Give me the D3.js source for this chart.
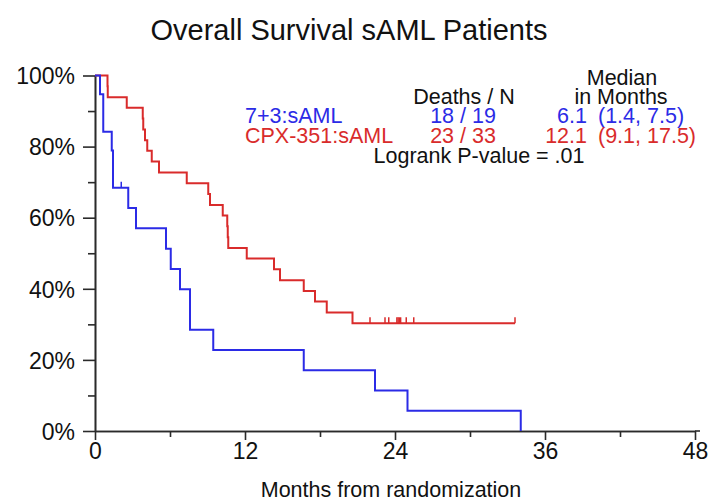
<!DOCTYPE html>
<html><head><meta charset="utf-8">
<script src="https://cdn.jsdelivr.net/npm/d3@7"></script>
<style>
html,body{margin:0;padding:0;background:#fff;}
svg{display:block;font-family:"Liberation Sans",Arial,sans-serif;}
</style></head>
<body><svg id="c" width="708" height="501"></svg>
<script>
// ---- data ----
const title = "Overall Survival sAML Patients";
const xTitle = "Months from randomization";
const xMajorTicks = [0, 12, 24, 36, 48];
const xMinorTicks = [6, 18, 30, 42];
const yMajorTicks = [0, 0.2, 0.4, 0.6, 0.8, 1.0];
const yMinorTicks = [0.1, 0.3, 0.5, 0.7, 0.9];

const groups = ["7+3:sAML", "CPX-351:sAML"];
const deathsN = ["18 / 19", "23 / 33"];
const medians = ["6.1", "12.1"];
const medianCI = ["(1.4, 7.5)", "(9.1, 17.5)"];
const pValueText = "Logrank P-value = .01";

const blueTimes = [0, 0.4, 0.66, 1.34, 1.44, 2.66, 3.28, 5.68, 6.06, 6.8, 7.6, 9.46, 16.7, 22.4, 25.0, 34.06];
const blueSurv  = [1, 0.947, 0.842, 0.789, 0.684, 0.627, 0.570, 0.513, 0.456, 0.399, 0.285, 0.228, 0.171, 0.114, 0.057, 0];
const blueCensorTimes = [2.1];
const blueCensorSurv  = [0.684];

const redTimes = [0, 1.0, 1.02, 2.54, 3.82, 3.86, 4.0, 4.18, 4.54, 5.12, 7.34, 9.06, 9.2, 10.22, 10.58, 10.62, 10.66, 12.14, 14.32, 14.8, 16.7, 17.6, 18.54, 20.6, 33.6];
const redSurv  = [1, 0.970, 0.939, 0.909, 0.879, 0.848, 0.818, 0.788, 0.758, 0.727, 0.697, 0.667, 0.636, 0.606, 0.576, 0.545, 0.515, 0.485, 0.455, 0.424, 0.394, 0.364, 0.333, 0.303, 0.303];
const redCensorTimes = [22.0, 23.2, 23.5, 24.15, 24.25, 24.35, 24.45, 24.9, 25.5, 33.6];
const redCensorSurv  = [0.303, 0.303, 0.303, 0.303, 0.303, 0.303, 0.303, 0.303, 0.303, 0.303];

// ---- styles ----
const BLUE = "#2b2be6", RED = "#d92b2b", AX = "#2a2a2a";
const svg = d3.select("#c");
const x = d3.scaleLinear().domain([0, 48]).range([95, 695]);
const y = d3.scaleLinear().domain([0, 1]).range([431, 75.5]);

// title
svg.append("text").attr("x", 349).attr("y", 40).attr("text-anchor", "middle")
  .attr("font-size", 29).attr("fill", "#111").text(title);

// axes
const yAxisMajor = svg.append("g").attr("transform", "translate(95,0)")
  .call(d3.axisLeft(y).tickValues(yMajorTicks).tickSize(12).tickSizeOuter(0).tickFormat(d3.format(".0%")).tickPadding(8));
const yAxisMinor = svg.append("g").attr("transform", "translate(95,0)")
  .call(d3.axisLeft(y).tickValues(yMinorTicks).tickSize(7).tickSizeOuter(0).tickFormat(""));
const xAxisMajor = svg.append("g").attr("transform", "translate(0,431)")
  .call(d3.axisBottom(x).tickValues(xMajorTicks).tickSize(9).tickSizeOuter(0).tickPadding(2));
const xAxisMinor = svg.append("g").attr("transform", "translate(0,431)")
  .call(d3.axisBottom(x).tickValues(xMinorTicks).tickSize(6).tickSizeOuter(0).tickFormat(""));
[yAxisMajor, yAxisMinor, xAxisMajor, xAxisMinor].forEach(g => {
  g.selectAll("path.domain").attr("stroke", AX).attr("stroke-width", 1.6);
  g.selectAll(".tick line").attr("stroke", AX).attr("stroke-width", 1.6);
  g.selectAll("text").attr("font-size", 23).attr("fill", "#111")
    .attr("font-family", "Liberation Sans, Arial, sans-serif");
});
yAxisMajor.selectAll("text").attr("dy", "0.36em");
xAxisMajor.selectAll("text").attr("dy", "0.74em");
// extend x-axis line slightly past 48
svg.append("line").attr("x1", x(48)).attr("x2", x(48) + 5).attr("y1", 431).attr("y2", 431)
  .attr("stroke", AX).attr("stroke-width", 1.6);

svg.append("text").attr("x", 391).attr("y", 497).attr("text-anchor", "middle")
  .attr("font-size", 21.5).attr("fill", "#111").text(xTitle);

// curves
const line = d3.line().x(d => x(d[0])).y(d => y(d[1])).curve(d3.curveStepAfter);
function drawCurve(times, surv, cT, cS, color) {
  const pts = times.map((t, i) => [t, surv[i]]);
  svg.append("path").datum(pts).attr("d", line).attr("fill", "none")
    .attr("stroke", color).attr("stroke-width", 2);
  svg.append("g").selectAll("line").data(cT.map((t, i) => [t, cS[i]])).join("line")
    .attr("x1", d => x(d[0])).attr("x2", d => x(d[0]))
    .attr("y1", d => y(d[1])).attr("y2", d => y(d[1]) - 6)
    .attr("stroke", color).attr("stroke-width", 1.5);
}
drawCurve(redTimes, redSurv, redCensorTimes, redCensorSurv, RED);
drawCurve(blueTimes, blueSurv, blueCensorTimes, blueCensorSurv, BLUE);

// legend table
const lg = svg.append("g").attr("font-size", 21.5);
lg.append("text").attr("x", 622).attr("y", 85).attr("text-anchor", "middle").attr("fill", "#111").text("Median");
lg.append("text").attr("x", 621).attr("y", 104).attr("text-anchor", "middle").attr("fill", "#111").text("in Months");
lg.append("text").attr("x", 464).attr("y", 104).attr("text-anchor", "middle").attr("fill", "#111").text("Deaths / N");
const colors = [BLUE, RED];
const rowY = [123, 143];
groups.forEach((g, i) => {
  lg.append("text").attr("x", 245).attr("y", rowY[i]).attr("fill", colors[i]).text(g);
  lg.append("text").attr("x", 463).attr("y", rowY[i]).attr("text-anchor", "middle").attr("fill", colors[i]).text(deathsN[i]);
  lg.append("text").attr("x", 587).attr("y", rowY[i]).attr("text-anchor", "end").attr("fill", colors[i]).text(medians[i]);
  lg.append("text").attr("x", 598).attr("y", rowY[i]).attr("fill", colors[i]).text(medianCI[i]);
});
lg.append("text").attr("x", 479).attr("y", 163).attr("text-anchor", "middle").attr("fill", "#111").text(pValueText);
</script></body></html>
